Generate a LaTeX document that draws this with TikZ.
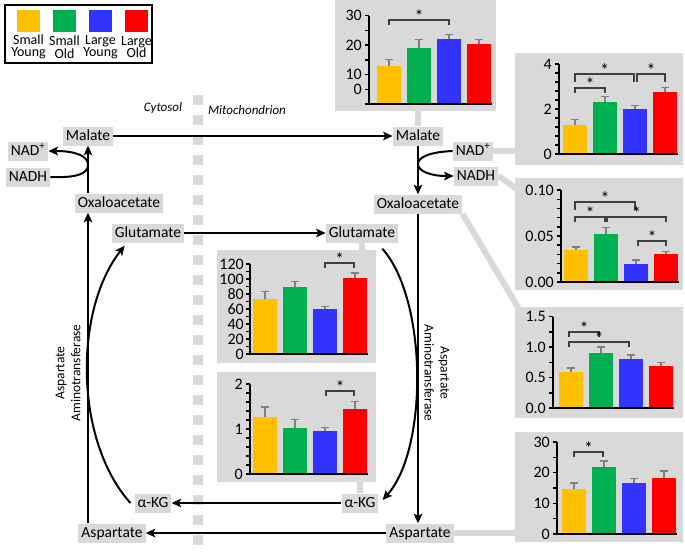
\documentclass[tikz,border=0pt]{standalone}
\usepackage{fontspec}
\setmainfont{Carlito}
\usetikzlibrary{arrows.meta,backgrounds,calc,positioning}
\definecolor{metgray}{HTML}{D9D9D9}
\definecolor{grpsy}{HTML}{FFC000}
\definecolor{grpso}{HTML}{00B050}
\definecolor{grply}{HTML}{3333FF}
\definecolor{grplo}{HTML}{FF0000}
\definecolor{errgray}{HTML}{808080}
\tikzset{%
  metbox/.style={%
    fill=metgray,
    inner xsep=3pt,
    inner ysep=2pt,
    text height=11.5pt,
    text depth=3.5pt,
    font=\fontsize{15.5}{17}\selectfont
  },
  chartbg/.style={fill=metgray,inner sep=0pt,anchor=north west},
  metarrow/.style={-{Stealth[length=9.5pt,width=8.5pt,inset=2pt]},line width=2pt},
  metlink/.style={draw=metgray,line width=6pt},
  membrane/.style={draw=metgray,line width=10pt,dash pattern=on 10pt off 10pt},
  axisline/.style={line width=1.5pt},
  errbar/.style={draw=errgray,line width=1.2pt},
  sigbar/.style={draw=black!75,line width=1.2pt},
  sigstar/.style={anchor=south,inner sep=0pt,yshift=-3pt,font=\fontsize{18}{18}\selectfont},
  ticklabel/.style={anchor=east,inner sep=0pt,font=\fontsize{16}{16}\selectfont},
  enzyme/.style={align=center,font=\fontsize{13.5}{16}\selectfont},
  compartment/.style={font=\fontsize{13}{15}\selectfont\itshape},
  legtext/.style={align=center,font=\fontsize{14}{12.5}\selectfont}
}

\begin{document}
\begin{tikzpicture}[x=1pt,y=-1pt]
    \useasboundingbox (0,0) rectangle (685,555);

    % legend
    \draw[line width=1.5pt] (5,5) rectangle (152,63);
    \foreach \x/\c/\a/\b [count=\k] in {28.5/grpsy/Small/Young,64.5/grpso/Small/Old,100.5/grply/Large/Young,136.5/grplo/Large/Old}{
      \fill[\c] (\x-11.5,10) rectangle (\x+11.5,32);
      \node[legtext] (leg\k) at (\x,47) {\a\\\b};
    }

    % membrane
    \draw[membrane] (198,95) -- (198,555);
    \node[compartment] (cyto) at (163,108) {Cytosol};
    \node[compartment] (mito) at (247,110) {Mitochondrion};

    % chart panels
    \node[chartbg,minimum width=161pt,minimum height=111pt] (malchart) at (335,0) {};
    \node[chartbg,minimum width=168pt,minimum height=112pt] (nadchart) at (515,53) {};
    \node[chartbg,minimum width=168pt,minimum height=112pt] (nadhchart) at (515,178) {};
    \node[chartbg,minimum width=168pt,minimum height=111pt] (oaachart) at (515,307) {};
    \node[chartbg,minimum width=168pt,minimum height=110pt] (aspchart) at (515,432) {};
    \node[chartbg,minimum width=159pt,minimum height=113pt] (glutchart) at (217,250) {};
    \node[chartbg,minimum width=159pt,minimum height=110pt] (akgchart) at (217,372) {};

    % metabolites
    \node[metbox] (malL) at (88,136) {Malate};
    \node[metbox] (nadL) at (28,151) {NAD\textsuperscript{+}};
    \node[metbox] (nadhL) at (28,177) {NADH};
    \node[metbox] (oaaL) at (119,203) {Oxaloacetate};
    \node[metbox] (gluL) at (148,233) {Glutamate};
    \node[metbox] (akgL) at (153,503) {α-KG};
    \node[metbox] (aspL) at (112,533) {Aspartate};
    \node[metbox] (malR) at (418,136) {Malate};
    \node[metbox] (nadR) at (473,151) {NAD\textsuperscript{+}};
    \node[metbox] (nadhR) at (476,176) {NADH};
    \node[metbox] (oaaR) at (418,204) {Oxaloacetate};
    \node[metbox] (gluR) at (362,233) {Glutamate};
    \node[metbox] (akgR) at (360,503) {α-KG};
    \node[metbox] (aspR) at (420,533) {Aspartate};

    \node[enzyme,rotate=90] (gotL) at (68,373) {Aspartate\\Aminotransferase};
    \node[enzyme,rotate=-90] (gotR) at (437,373) {Aspartate\\Aminotransferase};

    % links to charts
    \begin{scope}[on background layer]
      \draw[metlink] (malR) -- (malR |- malchart.south);
      \draw[metlink] (nadR) -- (nadR -| nadchart.west);
      \draw[metlink] (nadhR.east) -- ($(nadhchart.north west)+(15,20)$);
      \draw[metlink] (oaaR.south east) -- ($(oaachart.north west)+(10,12)$);
      \draw[metlink] (aspR) -- (aspR -| aspchart.west);
      \draw[metlink] (gluR) -- (gluR |- glutchart.north);
      \draw[metlink] (akgR) -- (akgR |- akgchart.south);
    \end{scope}

    % pathway
    \coordinate (arcL) at (88,165);
    \coordinate (arcR) at (418,164);
    \draw[metarrow] (malL) -- (malR);
    \draw[metarrow] (oaaL.north -| malL) -- (malL.south);
    \draw[metarrow] (aspL.north -| malL) -- (oaaL.south -| malL);
    \draw[metarrow] (malR.south) -- (oaaR.north -| malR);
    \draw[metarrow] (oaaR.south -| malR) -- (aspR.north -| malR);
    \draw[metarrow] (nadhL.east) .. controls (76,178) and (88,174) .. (arcL) .. controls (88,156) and (76,151) .. (nadL.east);
    \draw[metarrow] (nadR.west) .. controls (430,152) and (418,157) .. (arcR) .. controls (418,171) and (430,176) .. (nadhR.west);
    \draw[metarrow] (gluL) -- (gluR);
    \draw[metarrow] (akgR) -- (akgL);
    \draw[metarrow] (aspR) -- (aspL);
    \draw[metarrow] ($(gluR.south east)+(-16,6)$) .. controls (428,300) and (428,450) .. ($(akgR.east)+(4,-3)$);
    \draw[metarrow] ($(akgL.west)+(-4,0)$) .. controls (74,440) and (74,310) .. ($(gluL.south west)+(13,3)$);

    % malate chart
    \begin{scope}[shift={(369,104)},y={(0pt,2.95pt)}]
      \foreach \i/\v/\e/\c in {0/13/2/grpsy,1/19/3/grpso,2/22/1.5/grply,3/20.5/1.5/grplo}{
        \fill[\c] (8+30*\i,0) rectangle ++(24,\v);
        \draw[errbar] (20+30*\i,\v) -- ++(0,\e) ++(-4,0) -- ++(8,0);
      }
      \foreach \t in {0,5,...,30} \draw[axisline] (0,\t) -- ++(-4,0);
      \foreach \t/\l in {30/30,20/20,10/10,5/0} \node[ticklabel] at (-7,\t) {\l};
      \draw[axisline] (0,30) -- (0,0) -- (123,0);
    \end{scope}

    % NAD+ chart
    \begin{scope}[shift={(559,154)},y={(0pt,22.5pt)}]
      \foreach \i/\v/\e/\c in {0/1.3/0.25/grpsy,1/2.3/0.25/grpso,2/2.0/0.17/grply,3/2.75/0.2/grplo}{
        \fill[\c] (4+30*\i,0) rectangle ++(24,\v);
        \draw[errbar] (16+30*\i,\v) -- ++(0,\e) ++(-4,0) -- ++(8,0);
      }
      \foreach \t in {0,0.4,...,4.1} \draw[axisline] (0,\t) -- ++(-4,0);
      \foreach \t in {0,2,4} \node[ticklabel] at (-7,\t) {\t};
      \draw[axisline] (0,4) -- (0,0) -- (119,0);
    \end{scope}

    % NADH chart
    \begin{scope}[shift={(561,282)},y={(0pt,920pt)}]
      \foreach \i/\v/\e/\c in {0/0.035/0.003/grpsy,1/0.052/0.007/grpso,2/0.02/0.004/grply,3/0.03/0.003/grplo}{
        \fill[\c] (3+30*\i,0) rectangle ++(24,\v);
        \draw[errbar] (15+30*\i,\v) -- ++(0,\e) ++(-4,0) -- ++(8,0);
      }
      \foreach \t in {0,0.01,...,0.101} \draw[axisline] (0,\t) -- ++(-4,0);
      \foreach \t/\l in {0/0.00,0.05/0.05,0.1/0.10} \node[ticklabel] at (-7,\t) {\l};
      \draw[axisline] (0,0.1) -- (0,0) -- (118,0);
    \end{scope}

    % oxaloacetate chart
    \begin{scope}[shift={(553,408)},y={(0pt,61pt)}]
      \foreach \i/\v/\e/\c in {0/0.59/0.065/grpsy,1/0.9/0.1/grpso,2/0.8/0.07/grply,3/0.69/0.06/grplo}{
        \fill[\c] (6+30*\i,0) rectangle ++(24,\v);
        \draw[errbar] (18+30*\i,\v) -- ++(0,\e) ++(-4,0) -- ++(8,0);
      }
      \foreach \t in {0,0.25,...,1.51} \draw[axisline] (0,\t) -- ++(-4,0);
      \foreach \t/\l in {0/0.0,0.5/0.5,1/1.0,1.5/1.5} \node[ticklabel] at (-7,\t) {\l};
      \draw[axisline] (0,1.5) -- (0,0) -- (121,0);
    \end{scope}

    % aspartate chart
    \begin{scope}[shift={(557,534)},y={(0pt,3.07pt)}]
      \foreach \i/\v/\e/\c in {0/14.7/1.9/grpsy,1/21.8/2/grpso,2/16.6/1.6/grply,3/18.2/2.3/grplo}{
        \fill[\c] (5+30*\i,0) rectangle ++(24,\v);
        \draw[errbar] (17+30*\i,\v) -- ++(0,\e) ++(-4,0) -- ++(8,0);
      }
      \foreach \t in {0,5,...,30} \draw[axisline] (0,\t) -- ++(-4,0);
      \foreach \t in {0,10,20,30} \node[ticklabel] at (-7,\t) {\t};
      \draw[axisline] (0,30) -- (0,0) -- (120,0);
    \end{scope}

    % glutamate chart
    \begin{scope}[shift={(250,354)},y={(0pt,0.75pt)}]
      \foreach \i/\v/\e/\c in {0/73/10/grpsy,1/89/8/grpso,2/60/3/grply,3/101/7/grplo}{
        \fill[\c] (3+30*\i,0) rectangle ++(24,\v);
        \draw[errbar] (15+30*\i,\v) -- ++(0,\e) ++(-4,0) -- ++(8,0);
      }
      \foreach \t in {0,10,...,120} \draw[axisline] (0,\t) -- ++(-4,0);
      \foreach \t in {0,20,...,120} \node[ticklabel] at (-6,\t) {\t};
      \draw[axisline] (0,120) -- (0,0) -- (118,0);
    \end{scope}

    % alpha-KG chart
    \begin{scope}[shift={(250,474)},y={(0pt,45pt)}]
      \foreach \i/\v/\e/\c in {0/1.27/0.22/grpsy,1/1.02/0.2/grpso,2/0.95/0.09/grply,3/1.44/0.18/grplo}{
        \fill[\c] (3+30*\i,0) rectangle ++(24,\v);
        \draw[errbar] (15+30*\i,\v) -- ++(0,\e) ++(-4,0) -- ++(8,0);
      }
      \foreach \t in {0,0.2,...,2.01} \draw[axisline] (0,\t) -- ++(-4,0);
      \foreach \t in {0,1,2} \node[ticklabel] at (-7,\t) {\t};
      \draw[axisline] (0,2) -- (0,0) -- (118,0);
    \end{scope}

    % significance brackets
    \foreach \a/\b/\l/\d [count=\k] in {389/449/20/5,575/605/88/5,575/634/74/8,637/665/74/8,575/635/202/8,575/605/217/5,607/666/217/5,638/666/241/5,569/599/332/5,569/629/342/5,574/603/452/5,325/354/263/5,326/354/391/5}{
      \draw[sigbar] (\a,\l+\d) |- (\b,\l) -- (\b,\l+\d);
      \node[sigstar] (sig\k) at ({(\a+\b)/2},\l) {*};
    }
\end{tikzpicture}
\end{document}
